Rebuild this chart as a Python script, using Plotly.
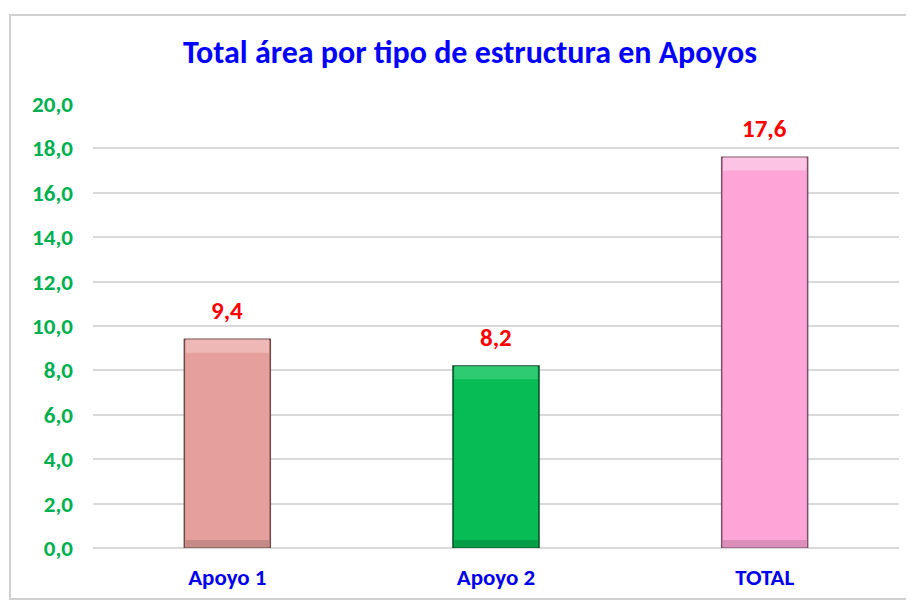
import plotly.graph_objects as go

categories = ["Apoyo 1", "Apoyo 2", "TOTAL"]
values = [9.4, 8.2, 17.6]
value_labels = ["9,4", "8,2", "17,6"]
bar_colors = ["#E5A09D", "#07BB55", "#FCA5D6"]
top_colors = ["#F2C2C0", "#3FD27F", "#FDD0EA"]
bottom_colors = ["#A87472", "#06803A", "#B8789C"]
edge_colors = ["#6E4A49", "#064A24", "#7A5068"]
tick_vals = [0, 2, 4, 6, 8, 10, 12, 14, 16, 18, 20]
tick_text = ["0,0", "2,0", "4,0", "6,0", "8,0", "10,0", "12,0", "14,0", "16,0", "18,0", "20,0"]

FONT = "Carlito, Liberation Sans Narrow, Liberation Sans, Arial"
BAND = 0.6
BW = 0.32

fig = go.Figure()
fig.add_trace(go.Bar(
    x=categories, y=values,
    marker=dict(color=bar_colors, line=dict(color=edge_colors, width=1.5)),
    width=BW, hoverinfo="skip",
))
fig.add_trace(go.Bar(
    x=categories, y=[BAND] * len(values), base=[v - BAND for v in values],
    marker=dict(color=top_colors, line=dict(width=0), opacity=0.7),
    width=BW - 0.01, hoverinfo="skip",
))
fig.add_trace(go.Bar(
    x=categories, y=[BAND * 0.6] * len(values), base=[0] * len(values),
    marker=dict(color=bottom_colors, line=dict(width=0), opacity=0.5),
    width=BW - 0.01, hoverinfo="skip",
))

for c, v, t in zip(categories, values, value_labels):
    fig.add_annotation(x=c, y=v, text=t, showarrow=False, yanchor="bottom", yshift=11,
                       font=dict(family=FONT, size=25, color="#FF0000", weight="bold"))

W, H = 914, 602
OFF = 8  # page offset of the figure
ml, mr, mt, mb = 93 - OFF, 23, 104 - OFF, 62
pw, ph = W - ml - mr, H - mt - mb

def px_x(p):
    return (p - OFF - ml) / pw

def px_y(p):
    return (H - mb - (p - OFF)) / ph

fig.add_shape(type="rect", xref="paper", yref="paper",
              x0=px_x(10), x1=px_x(912), y0=px_y(599), y1=px_y(15),
              line=dict(color="#D0D0D0", width=2), fillcolor="rgba(0,0,0,0)", layer="below")

fig.update_layout(
    width=W, height=H,
    margin=dict(l=ml, r=mr, t=mt, b=mb),
    paper_bgcolor="white", plot_bgcolor="white",
    showlegend=False, barmode="overlay",
    title=dict(text="Total área por tipo de estructura en Apoyos", x=(470 - OFF) / W, xanchor="center",
               y=1 - (52 - OFF) / H, yanchor="middle",
               font=dict(family=FONT, size=32, color="#0000FF", weight="bold")),
    xaxis=dict(showgrid=False, showline=False, ticks="", ticklabelstandoff=13,
               tickfont=dict(family=FONT, size=23, color="#0000EE", weight="bold")),
    yaxis=dict(range=[0, 20], tickvals=tick_vals, ticktext=tick_text,
               showgrid=True, gridcolor="#D9D9D9", gridwidth=2,
               zeroline=True, zerolinecolor="#D9D9D9", zerolinewidth=2,
               ticks="", ticklabelstandoff=19,
               tickfont=dict(family=FONT, size=23, color="#00B050", weight="bold")),
)

fig.write_html("out.html")
